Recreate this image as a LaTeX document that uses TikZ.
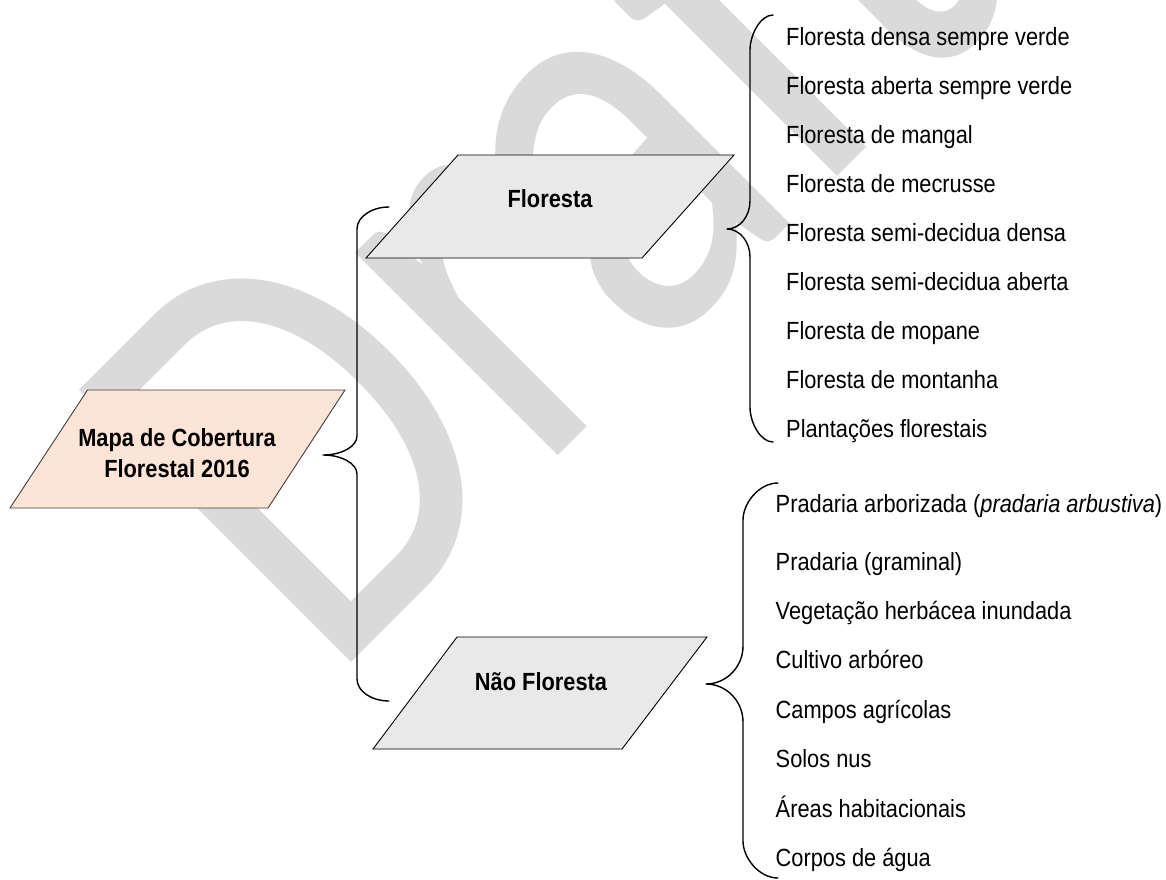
\documentclass[tikz,border=0pt]{standalone}
\usepackage{fontspec}
\setmainfont{Liberation Sans}
\newfontfamily\wmfont{Carlito}
\definecolor{peach}{HTML}{FCE4D6}
\definecolor{boxgray}{HTML}{E9E9E9}
\definecolor{wmgray}{HTML}{DADADA}
\definecolor{edgegray}{HTML}{404040}
% slightly tall lettering
\newcommand\tall[1]{\scalebox{1}[1.14]{#1}}
\begin{document}
\begin{tikzpicture}[x=1pt,y=-1pt,
  lbl/.style={inner sep=0pt, anchor=base west, font=\fontsize{21.8}{26}\selectfont},
  head/.style={inner sep=0pt, anchor=base, font=\fontsize{21.8}{26}\selectfont\bfseries},
  para/.style={draw=black, line width=0.9pt, fill=boxgray},
  brc/.style={draw=black, line width=1.4pt, line join=round, line cap=round},
]
\useasboundingbox (0,0) rectangle (1166,879);

% watermark
\begin{scope}
  \clip (0,0) rectangle (1166,879);
  \node[rotate=45, anchor=base west, inner sep=0pt, text=wmgray,
        font=\wmfont\fontsize{600}{600}\selectfont] (wm) at (328,686) {\scalebox{0.8}[1]{Draft}};
\end{scope}

% parallelogram boxes
\path[para, fill=peach, draw=edgegray] (87.5,390) -- (345,390) -- (268,508) -- (10,508) -- cycle;
\path[para] (458,155) -- (734,155) -- (642,258) -- (366,258) -- cycle;
\path[para] (457,637) -- (707,637) -- (622,749) -- (373,749) -- cycle;

\node[head] (mapa1) at (177,446) {\tall{Mapa de Cobertura}};
\node[head] (mapa2) at (177,477) {\tall{Florestal 2016}};
\node[head] (flo) at (550,207.5) {\tall{Floresta}};
\node[head] (nflo) at (541,690.5) {\tall{Não Floresta}};

% brace from the map to both classes
\draw[brc] (389,207) .. controls (371.4,207) and (357,216.9) .. (357,229)
  -- (357,436) .. controls (357,446.45) and (341.7,455) .. (323,455)
  .. controls (341.7,455) and (357,463.55) .. (357,474)
  -- (357,679) .. controls (357,691.1) and (371.4,701) .. (389,701);

% brace of forest classes
\draw[brc] (773,15) .. controls (760.4,15) and (750,34.75) .. (750,50)
  -- (750,201) .. controls (750,216.4) and (739.6,229) .. (727,229)
  .. controls (739.6,229) and (750,241.6) .. (750,257)
  -- (750,407) .. controls (750,422.75) and (760.4,442) .. (773,442);

% brace of non-forest classes
\draw[brc] (778,483) .. controls (758.75,483) and (743,503.35) .. (743,520)
  -- (743,646) .. controls (743,666.9) and (726.35,684) .. (706,684)
  .. controls (726.35,684) and (743,701.1) .. (743,722)
  -- (743,841) .. controls (743,857.65) and (758.75,878) .. (778,878);

\foreach \t [count=\i from 0] in {Floresta densa sempre verde, Floresta aberta sempre verde,
  Floresta de mangal, Floresta de mecrusse, Floresta semi-decidua densa,
  Floresta semi-decidua aberta, Floresta de mopane, Floresta de montanha,
  Plantações florestais}
  \node[lbl] (f\i) at (786,{45.7+48.97*\i}) {\tall{\t}};

\node[lbl] (n0) at (775.5,512) {\tall{Pradaria arborizada (\textit{pradaria arbustiva})}};
\foreach \t [count=\i from 1] in {Pradaria (graminal), Vegetação herbácea inundada,
  Cultivo arbóreo, Campos agrícolas, Solos nus, Áreas habitacionais, Corpos de água}
  \node[lbl] (n\i) at (775.5,{570+49.4*(\i-1)}) {\tall{\t}};
\end{tikzpicture}
\end{document}
